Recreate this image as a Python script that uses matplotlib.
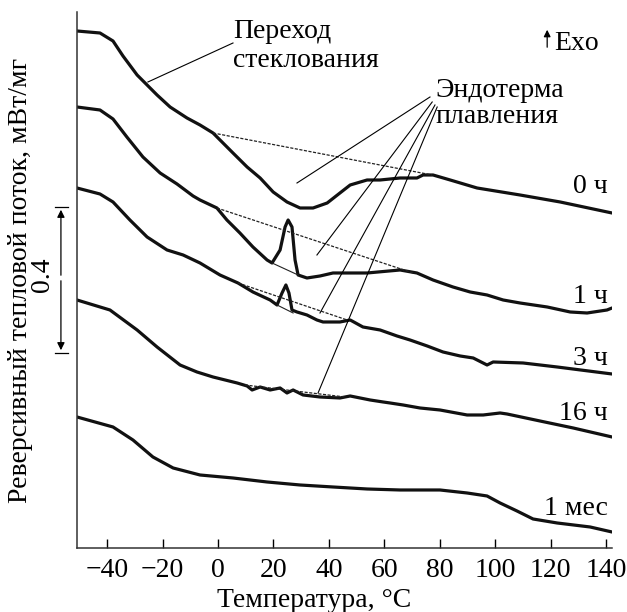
import numpy as np
import matplotlib
matplotlib.use('Agg')
import matplotlib.pyplot as plt

plt.rcParams['font.family'] = ['Liberation Serif', 'DejaVu Serif']
plt.rcParams['font.size'] = 20

# temperature (°C) and reversing heat flow (a.u., curves shifted vertically)
t_0h = [-50.9, -42.6, -37.9, -34.3, -29.2, -25.6, -22.0, -17.3, -11.2, -6.5, -1.8, 1.8, 5.4,
        10.5, 15.2, 19.9, 24.9, 29.6, 34.3, 39.4, 44.0, 47.7, 53.8, 58.5, 65.7, 71.8, 74.0,
        77.6, 83.8, 93.5, 109.0, 123.5, 142.2]
y_0h = [517, 515, 507, 492, 473, 463, 453, 441, 430, 423, 415, 405, 395,
        381, 370, 356, 346, 340, 340, 345, 355, 363, 368, 368, 370, 370, 373,
        373, 368, 360, 353, 346, 335]

t_1h = [-50.9, -42.6, -37.9, -32.9, -27.1, -20.9, -14.8, -9.0, -6.5, -0.4, 3.2, 7.9, 12.6,
        17.7, 19.5, 22.4, 24.2, 25.3, 26.7, 27.8, 28.9, 32.1, 36.8, 41.5, 53.8, 65.7, 71.8,
        77.6, 84.8, 91.0, 97.1, 102.9, 109.0, 118.8, 127.1, 133.2, 140.4, 142.2]
y_1h = [441, 438, 429, 411, 391, 375, 364, 352, 348, 340, 328, 315, 301,
        288, 285, 298, 321, 328, 321, 288, 273, 270, 272, 275, 275, 278, 275,
        268, 261, 256, 253, 248, 245, 241, 236, 235, 238, 240]

t_3h = [-50.9, -42.6, -37.9, -31.8, -25.6, -18.4, -12.6, -6.5, 0.7, 7.2, 12.6, 18.8, 21.3,
        23.1, 24.5, 25.6, 26.7, 28.5, 32.1, 35.7, 37.9, 44.0, 47.7, 52.3, 58.5, 64.6, 69.3,
        75.5, 81.2, 87.4, 92.1, 97.1, 99.3, 110.1, 122.4, 142.2]
y_3h = [360, 354, 346, 328, 311, 298, 293, 285, 273, 265, 256, 248, 243,
        255, 263, 255, 238, 236, 233, 228, 226, 226, 228, 221, 218, 212, 208,
        202, 196, 192, 190, 183, 186, 185, 181, 174]

t_16h = [-50.9, -39.0, -29.2, -22.0, -13.7, -7.6, -1.8, 6.9, 10.5, 12.3, 15.2, 18.8, 22.4,
         24.9, 27.1, 30.7, 36.8, 44.0, 47.7, 51.3, 54.9, 59.6, 62.1, 66.8, 72.9, 80.1, 89.9,
         95.7, 101.8, 104.3, 116.2, 128.2, 142.2]
y_16h = [248, 238, 218, 201, 183, 176, 171, 165, 162, 158, 161, 158, 160,
         155, 158, 153, 151, 150, 152, 150, 148, 146, 145, 143, 140, 138, 133,
         133, 135, 134, 127, 120, 111]

t_1m = [-50.9, -37.9, -30.7, -23.5, -16.2, -6.5, 5.4, 17.7, 29.6, 41.5, 53.8, 65.7, 80.1,
        89.9, 97.1, 101.8, 107.9, 113.7, 122.4, 134.3, 142.2]
y_1m = [131, 121, 108, 91, 80, 73, 70, 66, 63, 61, 59, 58, 58,
        55, 52, 45, 37, 29, 25, 21, 16]

curve_t = [t_0h, t_1h, t_3h, t_16h, t_1m]
curve_y = [y_0h, y_1h, y_3h, y_16h, y_1m]
curve_names = ['0 ч', '1 ч', '3 ч', '16 ч', '1 мес']
name_y = [355, 245, 183, 128, 33]

# dashed melting baselines: (t1, y1, t2, y2)
baselines = [(-1.8, 415, 77.3, 373), (-0.4, 340, 70.4, 275),
             (7.2, 265, 46.6, 228), (9.7, 163, 45.8, 151)]
# thin baselines under the small peaks
peak_bases = [(19.5, 285, 28.9, 273), (21.3, 243, 27.1, 235)]

fig = plt.figure(figsize=(6.27, 6.12), dpi=100)
ax = fig.add_axes([0.1228, 0.1046, 0.8533, 0.8758])

for t, y in zip(curve_t, curve_y):
    ax.plot(t, y, color='#111111', lw=2.3, solid_capstyle='round', solid_joinstyle='round')

for t1, y1, t2, y2 in baselines:
    ax.plot([t1, t2], [y1, y2], color='#222222', lw=0.9, ls=(0, (2.5, 1.2)))
for t1, y1, t2, y2 in peak_bases:
    ax.plot([t1, t2], [y1, y2], color='#222222', lw=0.8)

for name, ny in zip(curve_names, name_y):
    ax.text(140.6, ny, name, ha='right', va='baseline')

# annotations
ax.plot([-25.3, 5.4], [466, 505], color='black', lw=0.8)
ax.text(5.4, 510, 'Переход', ha='left', va='baseline')
ax.text(5.4, 481, 'стеклования', ha='left', va='baseline')

ax.text(78.3, 451, 'Эндотерма', ha='left', va='baseline')
ax.text(78.3, 425, 'плавления', ha='left', va='baseline')
leaders = [(76.5, 451, 28.5, 365), (77.3, 446, 35.7, 293),
           (78.3, 443, 36.8, 235), (79.1, 441, 36.1, 155)]
for t1, y1, t2, y2 in leaders:
    ax.plot([t1, t2], [y1, y2], color='black', lw=0.8)

ax.annotate('', xy=(118.8, 521), xytext=(118.8, 498),
            arrowprops=dict(arrowstyle='-|>', color='black', lw=0.9, mutation_scale=10))
ax.text(121.5, 498, 'Exo', ha='left', va='baseline')

# 0.4 scale bar
bar_t = -56.7
ax.annotate('', xy=(bar_t, 341), xytext=(bar_t, 270), annotation_clip=False,
            arrowprops=dict(arrowstyle='-|>', color='black', lw=0.9, mutation_scale=11))
ax.annotate('', xy=(bar_t, 195), xytext=(bar_t, 270), annotation_clip=False,
            arrowprops=dict(arrowstyle='-|>', color='black', lw=0.9, mutation_scale=11))
ax.plot([-59.0, -54.3], [341, 341], color='black', lw=0.9, clip_on=False)
ax.plot([-59.0, -54.3], [195, 195], color='black', lw=0.9, clip_on=False)
ax.text(-63.2, 273, '0.4', rotation=90, ha='center', va='center')

ax.set_xlim(-50.9, 142.2)
ax.set_ylim(0, 536)
ax.set_xticks(np.arange(-40, 141, 20))
ax.set_yticks([])
ax.tick_params(axis='x', direction='in', length=6.5, width=1, pad=7)
for s in ['top', 'right']:
    ax.spines[s].set_visible(False)
for s in ['left', 'bottom']:
    ax.spines[s].set_linewidth(1.1)
    ax.spines[s].set_color('#333333')

ax.set_xlabel('Температура, °C')
ax.xaxis.set_label_coords(0.443, -0.074)
ax.set_ylabel('Реверсивный тепловой поток, мВт/мг')
ax.yaxis.set_label_coords(-0.083, 0.5)

fig.savefig('out.png', dpi=100)
